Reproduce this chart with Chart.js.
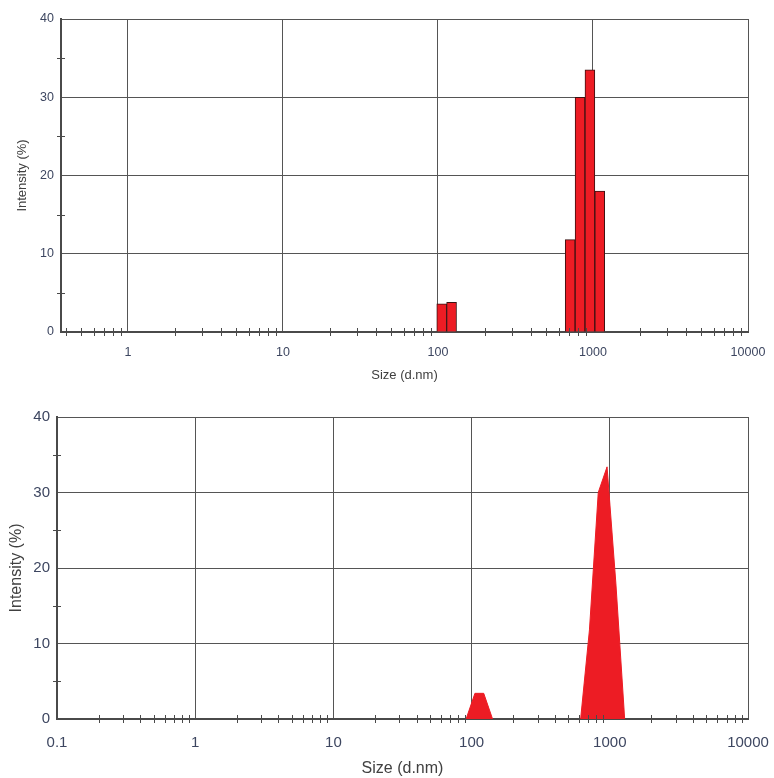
<!DOCTYPE html>
<html>
<head>
<meta charset="utf-8">
<title>Size distribution by intensity</title>
<script src="https://cdn.jsdelivr.net/npm/chart.js@4.4.1/dist/chart.umd.min.js"></script>
<style>
  body { margin: 0; background: #fff; }
  canvas { display: block; }
</style>
</head>
<body>
<canvas id="histChart" width="774" height="390"></canvas>
<canvas id="areaChart" width="774" height="388"></canvas>
<script>
// size classes (d.nm) around the two peaks
const sizeBins = [91.28, 105.7, 122.4, 141.8, 164.2, 190.1, 220.2, 255.0, 295.3, 342.0,
                  396.1, 458.7, 531.2, 615.1, 712.4, 825.0, 955.4, 1106, 1281];

// intensity (%) per class - bars on top, filled curve below
const intensityBars = [null, 3.6, 3.8, null, null, null, null, null, null, null,
                       null, null, null, null, 11.8, 30.0, 33.5, 18.0, null];
const intensityCurve = [0, 3.4, 3.4, 0, null, null, null, null, null, null,
                        null, null, null, 0, 11.8, 30.0, 33.4, 18.0, 0];

// tick labels
const decadesTop = [1, 10, 100, 1000, 10000];
const decadesBottom = [0.1, 1, 10, 100, 1000, 10000];
const intensityTicks = [0, 10, 20, 30, 40];

const RED = '#ed1c24';
const GRID = '#555555';
const AXIS = '#4a4a4a';
const LABEL = '#3d4660';

function toPoints(vals) {
    return sizeBins.map((x, i) => ({ x: x, y: vals[i] }));
}

// decade ticks plus 2..9 minor ticks in between
function logTicks(min, max, decades) {
    return (scale) => {
        const out = [];
        for (let d = 0.1; d < max * 1.0001; d *= 10) {
            const base = Math.round(d * 10) / 10;
            for (let k = 1; k <= 9; k++) {
                const v = parseFloat((base * k).toPrecision(6));
                if (v >= min && v <= max) out.push({ value: v, major: decades.includes(v) });
            }
        }
        scale.ticks = out;
    };
}

// short minor tick marks crossing the axes
const minorTicks = {
    id: 'minorTicks',
    afterDraw(chart) {
        const { ctx, chartArea, scales } = chart;
        ctx.save();
        ctx.strokeStyle = AXIS;
        ctx.lineWidth = 1;
        ctx.beginPath();
        scales.x.ticks.forEach((t, i) => {
            if (t.major) return;
            const px = Math.round(scales.x.getPixelForTick(i)) + 0.5;
            ctx.moveTo(px, chartArea.bottom - 4);
            ctx.lineTo(px, chartArea.bottom + 4);
        });
        scales.y.ticks.forEach((t, i) => {
            if (intensityTicks.includes(t.value)) return;
            const py = Math.round(scales.y.getPixelForTick(i)) + 0.5;
            ctx.moveTo(chartArea.left - 4, py);
            ctx.lineTo(chartArea.left + 4, py);
        });
        ctx.stroke();
        ctx.restore();
    }
};

function buildOptions(cfg) {
    return {
        responsive: false,
        animation: false,
        devicePixelRatio: 1,
        layout: { padding: { left: 0, right: 26, top: cfg.top, bottom: 0 } },
        plugins: { legend: { display: false }, tooltip: { enabled: false } },
        scales: {
            x: {
                type: 'logarithmic',
                min: cfg.min,
                max: 10000,
                offset: false,
                afterBuildTicks: logTicks(cfg.min, 10000, cfg.decades),
                afterFit: (s) => {
                    s.height = cfg.xHeight;
                    s.paddingLeft = 0;
                    s.paddingRight = 0;
                },
                grid: {
                    offset: false,
                    drawTicks: false,
                    color: (c) => (c.tick && c.tick.major) ? GRID : 'rgba(0,0,0,0)',
                    lineWidth: 1
                },
                border: { color: AXIS, width: 2 },
                ticks: {
                    autoSkip: false,
                    maxRotation: 0,
                    padding: cfg.xPad,
                    color: LABEL,
                    font: { family: 'Liberation Sans, Arial, sans-serif', size: cfg.tickSize },
                    callback: (v) => cfg.decades.includes(v) ? String(v) : ''
                },
                title: {
                    display: true,
                    text: 'Size (d.nm)',
                    color: '#404040',
                    padding: { top: 0, bottom: cfg.xTitlePad },
                    font: { family: 'Liberation Sans, Arial, sans-serif', size: cfg.titleSize }
                }
            },
            y: {
                min: 0,
                max: 40,
                afterFit: (s) => {
                    s.width = cfg.yWidth;
                    s.paddingTop = 0;
                    s.paddingBottom = 0;
                },
                grid: {
                    drawTicks: false,
                    color: (c) => (c.tick && intensityTicks.includes(c.tick.value)) ? GRID : 'rgba(0,0,0,0)',
                    lineWidth: 1
                },
                border: { color: AXIS, width: 2 },
                ticks: {
                    stepSize: 5,
                    padding: cfg.yPad,
                    color: LABEL,
                    font: { family: 'Liberation Sans, Arial, sans-serif', size: cfg.tickSize },
                    callback: (v) => intensityTicks.includes(v) ? String(v) : ''
                },
                title: {
                    display: true,
                    text: 'Intensity (%)',
                    color: '#404040',
                    padding: { top: cfg.yTitlePad, bottom: 0 },
                    font: { family: 'Liberation Sans, Arial, sans-serif', size: cfg.titleSize }
                }
            }
        }
    };
}

new Chart(document.getElementById('histChart'), {
    type: 'bar',
    data: {
        datasets: [{
            data: toPoints(intensityBars),
            backgroundColor: RED,
            borderColor: '#3a1212',
            borderWidth: 1,
            borderSkipped: 'start',
            barThickness: 'flex',
            categoryPercentage: 1,
            barPercentage: 1
        }]
    },
    options: buildOptions({
        top: 19, min: 0.37, decades: decadesTop, xHeight: 58, yWidth: 61,
        tickSize: 12.5, titleSize: 13, xPad: 13, yPad: 7, xTitlePad: 7, yTitlePad: 15
    }),
    plugins: [minorTicks]
});

new Chart(document.getElementById('areaChart'), {
    type: 'line',
    data: {
        datasets: [{
            data: toPoints(intensityCurve),
            borderColor: RED,
            backgroundColor: RED,
            borderWidth: 1,
            pointRadius: 0,
            tension: 0,
            spanGaps: false,
            fill: 'origin'
        }]
    },
    options: buildOptions({
        top: 27, min: 0.1, decades: decadesBottom, xHeight: 59, yWidth: 57,
        tickSize: 15, titleSize: 16, xPad: 15, yPad: 7, xTitlePad: 0, yTitlePad: 7
    }),
    plugins: [minorTicks]
});
</script>
</body>
</html>
